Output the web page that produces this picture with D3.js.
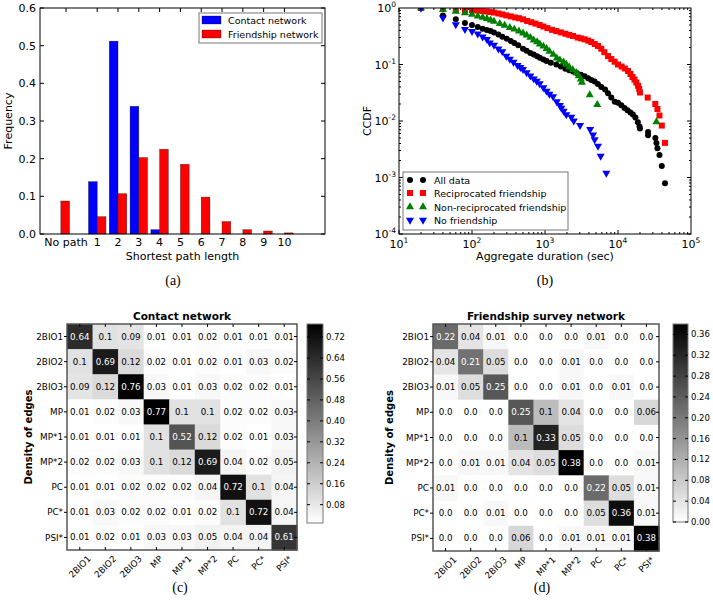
<!DOCTYPE html>
<html><head><meta charset="utf-8">
<script src="https://cdn.jsdelivr.net/npm/d3@7"></script>
<style>body{margin:0;background:#fff} svg{display:block} text{font-family:"DejaVu Sans",sans-serif;fill:#000}</style>
</head><body><svg id="chart" width="713" height="605"></svg>
<script>
// ---------- DATA ----------
const pathCategories = ["No path","1","2","3","4","5","6","7","8","9","10"];
const pathX = [-0.75,1,2,3,4,5,6,7,8,9,10];
const contactFreq = [0,0.139,0.512,0.339,0.0115,0,0,0,0,0,0];
const friendFreq = [0.0876,0.046,0.107,0.203,0.225,0.185,0.098,0.033,0.0115,0.008,0.003];
const freqTicks = [0,0.1,0.2,0.3,0.4,0.5,0.6];

const allData = [[20,1],[40,0.74],[60,0.63],[80,0.54],[100,0.50],[120,0.46],[140,0.43],[160,0.41],[180,0.39],[200,0.37],[230,0.34],[260,0.31],[300,0.285],[340,0.26],[380,0.24],[430,0.22],[500,0.19],[560,0.175],[630,0.16],[700,0.15],[780,0.14],[850,0.132],[950,0.122],[1050,0.115],[1200,0.107],[1430,0.10],[1650,0.092],[1900,0.084],[2150,0.079],[2420,0.075],[2750,0.07],[3100,0.066],[3490,0.062],[3900,0.057],[4300,0.053],[4790,0.050],[5300,0.045],[5900,0.040],[6650,0.036],[7300,0.031],[8100,0.026],[9040,0.022],[10000,0.021],[11100,0.019],[12300,0.017],[13500,0.0155],[14800,0.0142],[16000,0.013],[17300,0.0115],[18700,0.0095],[19700,0.008],[20000,0.0074],[25800,0.0064],[25800,0.0056],[32500,0.0050],[33600,0.0041],[34700,0.0033],[37000,0.0025],[39800,0.0016],[44000,0.00079]];
const reciprocated = [[20,1],[40,0.96],[60,0.93],[80,0.92],[100,0.91],[120,0.90],[140,0.88],[160,0.87],[175,0.85],[200,0.83],[230,0.80],[260,0.77],[295,0.74],[340,0.71],[390,0.68],[440,0.66],[500,0.63],[570,0.59],[650,0.56],[740,0.53],[845,0.50],[950,0.47],[1080,0.44],[1250,0.41],[1430,0.39],[1650,0.37],[1900,0.35],[2150,0.335],[2420,0.32],[2800,0.30],[3100,0.29],[3490,0.279],[3900,0.265],[4300,0.25],[4800,0.23],[5320,0.213],[5900,0.19],[6500,0.165],[7300,0.141],[8100,0.125],[9000,0.112],[10000,0.10],[11200,0.092],[12400,0.085],[13700,0.077],[14800,0.068],[15800,0.06],[16800,0.054],[17800,0.048],[18800,0.042],[19500,0.037],[20000,0.032],[25500,0.026],[32400,0.020],[34700,0.0163],[37000,0.0125],[39800,0.0083],[44000,0.0041]];
const nonReciprocated = [[20,1],[40,0.93],[60,0.87],[80,0.82],[100,0.77],[120,0.72],[140,0.68],[160,0.65],[180,0.61],[200,0.58],[240,0.53],[280,0.49],[330,0.45],[380,0.42],[440,0.39],[500,0.36],[560,0.33],[630,0.30],[700,0.27],[780,0.25],[850,0.23],[950,0.21],[1050,0.19],[1150,0.17],[1300,0.15],[1450,0.13],[1600,0.12],[1800,0.11],[1960,0.10],[2150,0.09],[2400,0.08],[2700,0.071],[2900,0.063],[3100,0.055],[3200,0.048],[4100,0.029],[5200,0.0195],[33600,0.0096]];
const noFriendship = [[20,1],[40,0.67],[60,0.51],[80,0.42],[100,0.385],[120,0.35],[140,0.31],[160,0.28],[175,0.243],[200,0.22],[230,0.19],[260,0.17],[295,0.141],[330,0.125],[370,0.11],[420,0.097],[460,0.089],[500,0.082],[560,0.072],[630,0.063],[700,0.056],[770,0.051],[845,0.046],[950,0.039],[1050,0.034],[1150,0.03],[1290,0.027],[1450,0.022],[1600,0.019],[1675,0.017],[1800,0.015],[1960,0.013],[2290,0.0117],[2480,0.0101],[3020,0.0084],[4150,0.0071],[4550,0.0057],[4790,0.0047],[5320,0.0036],[5790,0.0024],[6920,0.0012]];
const ccdfSeriesNames = ["All data","Reciprocated friendship","Non-reciprocated friendship","No friendship"];
const durationTickExps = [1,2,3,4,5];
const ccdfTickExps = [0,-1,-2,-3,-4];

const groupLabels = ["2BIO1","2BIO2","2BIO3","MP","MP*1","MP*2","PC","PC*","PSI*"];
const contactMatrix = [
 [0.64,0.1,0.09,0.01,0.01,0.02,0.01,0.01,0.01],
 [0.1,0.69,0.12,0.02,0.01,0.02,0.01,0.03,0.02],
 [0.09,0.12,0.76,0.03,0.01,0.03,0.02,0.02,0.01],
 [0.01,0.02,0.03,0.77,0.1,0.1,0.02,0.02,0.03],
 [0.01,0.01,0.01,0.1,0.52,0.12,0.02,0.01,0.03],
 [0.02,0.02,0.03,0.1,0.12,0.69,0.04,0.02,0.05],
 [0.01,0.01,0.02,0.02,0.02,0.04,0.72,0.1,0.04],
 [0.01,0.03,0.02,0.02,0.01,0.02,0.1,0.72,0.04],
 [0.01,0.02,0.01,0.03,0.03,0.05,0.04,0.04,0.61]];
const friendMatrix = [
 [0.22,0.04,0.01,0.0,0.0,0.0,0.01,0.0,0.0],
 [0.04,0.21,0.05,0.0,0.0,0.01,0.0,0.0,0.0],
 [0.01,0.05,0.25,0.0,0.0,0.01,0.0,0.01,0.0],
 [0.0,0.0,0.0,0.25,0.1,0.04,0.0,0.0,0.06],
 [0.0,0.0,0.0,0.1,0.33,0.05,0.0,0.0,0.0],
 [0.0,0.01,0.01,0.04,0.05,0.38,0.0,0.0,0.01],
 [0.01,0.0,0.0,0.0,0.0,0.0,0.22,0.05,0.01],
 [0.0,0.0,0.01,0.0,0.0,0.0,0.05,0.36,0.01],
 [0.0,0.0,0.0,0.06,0.0,0.01,0.01,0.01,0.38]];
const contactTicks = [0.08,0.16,0.24,0.32,0.40,0.48,0.56,0.64,0.72];
const friendTicks = [0.00,0.04,0.08,0.12,0.16,0.20,0.24,0.28,0.32,0.36];

// ---------- DRAW ----------
const svg = d3.select("#chart");
const SERIF = "'Liberation Serif','DejaVu Serif',serif";

function frame(g, l, r, t, b){
  g.append("rect").attr("x",l).attr("y",t).attr("width",r-l).attr("height",b-t)
   .attr("fill","none").attr("stroke","#000").attr("stroke-width",1);
}
function subLabel(txt, x, y){
  svg.append("text").attr("x",x).attr("y",y).attr("text-anchor","middle")
    .style("font-family",SERIF).style("font-size","14px").text(txt);
}

// ===== Panel (a) =====
(function(){
  const L=40,R=325,T=8,B=234;
  const g = svg.append("g");
  const x = d3.scaleLinear().domain([-1.75,11.95]).range([L,R]);
  const y = d3.scaleLinear().domain([0,0.6]).range([B,T]);
  const w = 0.42;
  g.selectAll("rect.c").data(contactFreq).join("rect")
    .attr("x",(d,i)=>x(pathX[i]-w)).attr("width",x(w)-x(0))
    .attr("y",d=>y(d)).attr("height",d=>y(0)-y(d))
    .attr("fill","#0000ff").attr("stroke","#000").attr("stroke-width",0.5).attr("stroke-opacity",d=>d>0?0.6:0);
  g.selectAll("rect.f").data(friendFreq).join("rect")
    .attr("x",(d,i)=>x(pathX[i])).attr("width",x(w)-x(0))
    .attr("y",d=>y(d)).attr("height",d=>y(0)-y(d))
    .attr("fill","#ff0000").attr("stroke","#000").attr("stroke-width",0.5).attr("stroke-opacity",0.6);
  frame(g,L,R,T,B);
  freqTicks.forEach(v=>{
    g.append("line").attr("x1",L).attr("x2",L+4).attr("y1",y(v)).attr("y2",y(v)).attr("stroke","#000");
    g.append("line").attr("x1",R).attr("x2",R-4).attr("y1",y(v)).attr("y2",y(v)).attr("stroke","#000");
    g.append("text").attr("x",L-4).attr("y",y(v)+4).attr("text-anchor","end").style("font-size","11px").text(v.toFixed(1));
  });
  pathCategories.forEach((c,i)=>{
    const px = x(pathX[i] + (i===0?0.25:0));
    g.append("line").attr("x1",px).attr("x2",px).attr("y1",T).attr("y2",T+4).attr("stroke","#000");
    g.append("text").attr("x",px).attr("y",246).attr("text-anchor","middle").style("font-size","11px").text(c);
  });
  g.append("text").attr("x",(L+R)/2).attr("y",260).attr("text-anchor","middle").style("font-size","11px").text("Shortest path length");
  g.append("text").attr("transform",`translate(12,${(T+B)/2}) rotate(-90)`).attr("text-anchor","middle").style("font-size","11px").text("Frequency");
  g.append("rect").attr("x",199).attr("y",13).attr("width",123).attr("height",30).attr("fill","#fff").attr("stroke","#777");
  [["Contact network","#0000ff"],["Friendship network","#ff0000"]].forEach((d,i)=>{
    const yy = 20 + i*14;
    g.append("rect").attr("x",202).attr("y",yy-4).attr("width",19).attr("height",8).attr("fill",d[1]).attr("stroke","#000").attr("stroke-width",0.5).attr("stroke-opacity",0.6);
    g.append("text").attr("x",228).attr("y",yy+3.5).style("font-size","9.5px").text(d[0]);
  });
  subLabel("(a)",173,285);
})();

// ===== Panel (b) =====
(function(){
  const L=399,R=691,T=8,B=234;
  const g = svg.append("g");
  const x = d3.scaleLog().domain([10,1e5]).range([L,R]);
  const y = d3.scaleLog().domain([1e-4,1]).range([B,T]);
  svg.append("clipPath").attr("id","clipB").append("rect").attr("x",L).attr("y",T).attr("width",R-L).attr("height",B-T);
  const pg = g.append("g").attr("clip-path","url(#clipB)");
  const tri = d3.symbol().type(d3.symbolTriangle).size(28);
  const styles = [
    {data:allData, col:"#000000", draw:(s)=>s.append("circle").attr("r",3)},
    {data:reciprocated, col:"#ff0000", draw:(s)=>s.append("rect").attr("x",-3).attr("y",-3).attr("width",6).attr("height",6)},
    {data:nonReciprocated, col:"#008000", draw:(s)=>s.append("path").attr("d",tri())},
    {data:noFriendship, col:"#0000ff", draw:(s)=>s.append("path").attr("d",tri()).attr("transform","rotate(180)")}
  ];
  styles.forEach(st=>{
    const sel = pg.selectAll(null).data(st.data).join("g")
      .attr("transform",d=>`translate(${x(d[0])},${y(d[1])})`).attr("fill",st.col);
    st.draw(sel);
  });
  frame(g,L,R,T,B);
  for(let e=1;e<5;e++){
    for(let m=1;m<10;m++){
      const v = m*Math.pow(10,e), px=x(v), len = m===1?4:2;
      g.append("line").attr("x1",px).attr("x2",px).attr("y1",B).attr("y2",B-len).attr("stroke","#000");
      g.append("line").attr("x1",px).attr("x2",px).attr("y1",T).attr("y2",T+len).attr("stroke","#000");
    }
  }
  for(let e=-4;e<0;e++){
    for(let m=1;m<10;m++){
      const v = m*Math.pow(10,e), py=y(v), len = m===1?4:2;
      g.append("line").attr("x1",L).attr("x2",L+len).attr("y1",py).attr("y2",py).attr("stroke","#000");
      g.append("line").attr("x1",R).attr("x2",R-len).attr("y1",py).attr("y2",py).attr("stroke","#000");
    }
  }
  durationTickExps.forEach(e=>{
    const t = g.append("text").attr("x",x(Math.pow(10,e))).attr("y",248).attr("text-anchor","middle").style("font-size","11px");
    t.append("tspan").text("10");
    t.append("tspan").attr("dy",-5).style("font-size","7.5px").text(String(e));
  });
  ccdfTickExps.forEach(e=>{
    const t = g.append("text").attr("x",396).attr("y",y(Math.pow(10,e))+4).attr("text-anchor","end").style("font-size","11px");
    t.append("tspan").text("10");
    t.append("tspan").attr("dy",-5).style("font-size","7.5px").text(String(e));
  });
  g.append("text").attr("x",(L+R)/2).attr("y",260).attr("text-anchor","middle").style("font-size","11px").text("Aggregate duration (sec)");
  g.append("text").attr("transform",`translate(371,${(T+B)/2}) rotate(-90)`).attr("text-anchor","middle").style("font-size","11px").text("CCDF");
  g.append("rect").attr("x",403).attr("y",172).attr("width",165).attr("height",58).attr("fill","#fff").attr("stroke","#777");
  const ly = [180,193,207,220];
  ccdfSeriesNames.forEach((name,i)=>{
    [410,423].forEach(mx=>{
      const s = g.append("g").attr("transform",`translate(${mx},${ly[i]})`).attr("fill",styles[i].col);
      styles[i].draw(s);
    });
    g.append("text").attr("x",434).attr("y",ly[i]+3.5).style("font-size","9.5px").text(name);
  });
  subLabel("(b)",545,285);
})();

// ===== Heatmaps =====
function heatmap(opt){
  const {L,R,T,B,cb,matrix,ticks,title} = opt;
  const g = svg.append("g");
  const n = groupLabels.length;
  const xb = d3.scaleBand().domain(d3.range(n)).range([L,R]);
  const yb = d3.scaleBand().domain(d3.range(n)).range([T,B]);
  const flat = matrix.flat();
  const ext = d3.extent(flat);
  const col = d3.scaleLinear().domain(ext).range(["#ffffff","#000000"]).clamp(true);
  matrix.forEach((row,i)=>row.forEach((v,j)=>{
    g.append("rect").attr("x",xb(j)).attr("y",yb(i)).attr("width",xb.bandwidth()+0.5).attr("height",yb.bandwidth()+0.5).attr("fill",col(v));
    g.append("text").attr("x",xb(j)+xb.bandwidth()/2).attr("y",yb(i)+yb.bandwidth()/2).attr("dy","0.35em")
      .attr("text-anchor","middle").style("font-size","8.7px")
      .style("fill", (v-ext[0])/(ext[1]-ext[0])>0.5 ? "#fff" : "#000")
      .text(v===0?"0.0":String(v));
  }));
  g.append("rect").attr("x",L).attr("y",T).attr("width",R-L).attr("height",B-T).attr("fill","none").attr("stroke","#555").attr("stroke-width",1.5);
  groupLabels.forEach((lab,i)=>{
    const cy = yb(i)+yb.bandwidth()/2, cx = xb(i)+xb.bandwidth()/2;
    g.append("line").attr("x1",L-3).attr("x2",L).attr("y1",cy).attr("y2",cy).attr("stroke","#000");
    g.append("line").attr("x1",R-3).attr("x2",R).attr("y1",cy).attr("y2",cy).attr("stroke","#000");
    g.append("line").attr("x1",cx).attr("x2",cx).attr("y1",T).attr("y2",T+3).attr("stroke","#000");
    g.append("line").attr("x1",cx).attr("x2",cx).attr("y1",B).attr("y2",B-3).attr("stroke","#000");
    g.append("text").attr("x",L-4).attr("y",cy).attr("dy","0.35em").attr("text-anchor","end").style("font-size","8.8px").text(lab);
    const t = g.append("text").attr("text-anchor","middle").attr("dy","0.35em").style("font-size","8.8px").text(lab);
    const len = t.node().getComputedTextLength();
    const h = (len + 8.8)*Math.SQRT1_2;
    t.attr("transform",`translate(${cx},${B+4+h/2}) rotate(-45)`);
  });
  g.append("text").attr("x",(L+R)/2).attr("y",T-4).attr("text-anchor","middle").style("font-size","10.5px").style("font-weight","bold").text(title);
  g.append("text").attr("transform",`translate(${opt.ylabX},${(T+B)/2}) rotate(-90)`).attr("text-anchor","middle").style("font-size","10px").style("font-weight","bold").text("Density of edges");
  const gid = "grad"+opt.id;
  const grad = svg.append("defs").append("linearGradient").attr("id",gid).attr("x1",0).attr("x2",0).attr("y1",1).attr("y2",0);
  grad.append("stop").attr("offset","0%").attr("stop-color","#fff");
  grad.append("stop").attr("offset","100%").attr("stop-color","#000");
  const cy = d3.scaleLinear().domain(ext).range([cb.b,cb.t]);
  g.append("rect").attr("x",cb.x).attr("y",cb.t).attr("width",cb.w).attr("height",cb.b-cb.t).attr("fill",`url(#${gid})`).attr("stroke","#777");
  ticks.forEach(v=>{
    const py = cy(v);
    g.append("line").attr("x1",cb.x+cb.w-3).attr("x2",cb.x+cb.w).attr("y1",py).attr("y2",py).attr("stroke","#000");
    g.append("line").attr("x1",cb.x).attr("x2",cb.x+3).attr("y1",py).attr("y2",py).attr("stroke","#000");
    g.append("text").attr("x",cb.x+cb.w+3).attr("y",py).attr("dy","0.35em").style("font-size","8.5px").text(v.toFixed(2));
  });
}
heatmap({id:"c",L:67,R:297,T:324,B:550,cb:{x:307,w:16,t:324,b:523},matrix:contactMatrix,ticks:contactTicks,title:"Contact network",ylabX:32});
heatmap({id:"d",L:433,R:659,T:324,B:551,cb:{x:673,w:15,t:324,b:522},matrix:friendMatrix,ticks:friendTicks,title:"Friendship survey network",ylabX:393});
subLabel("(c)",180,592);
subLabel("(d)",542,592);
</script></body></html>
